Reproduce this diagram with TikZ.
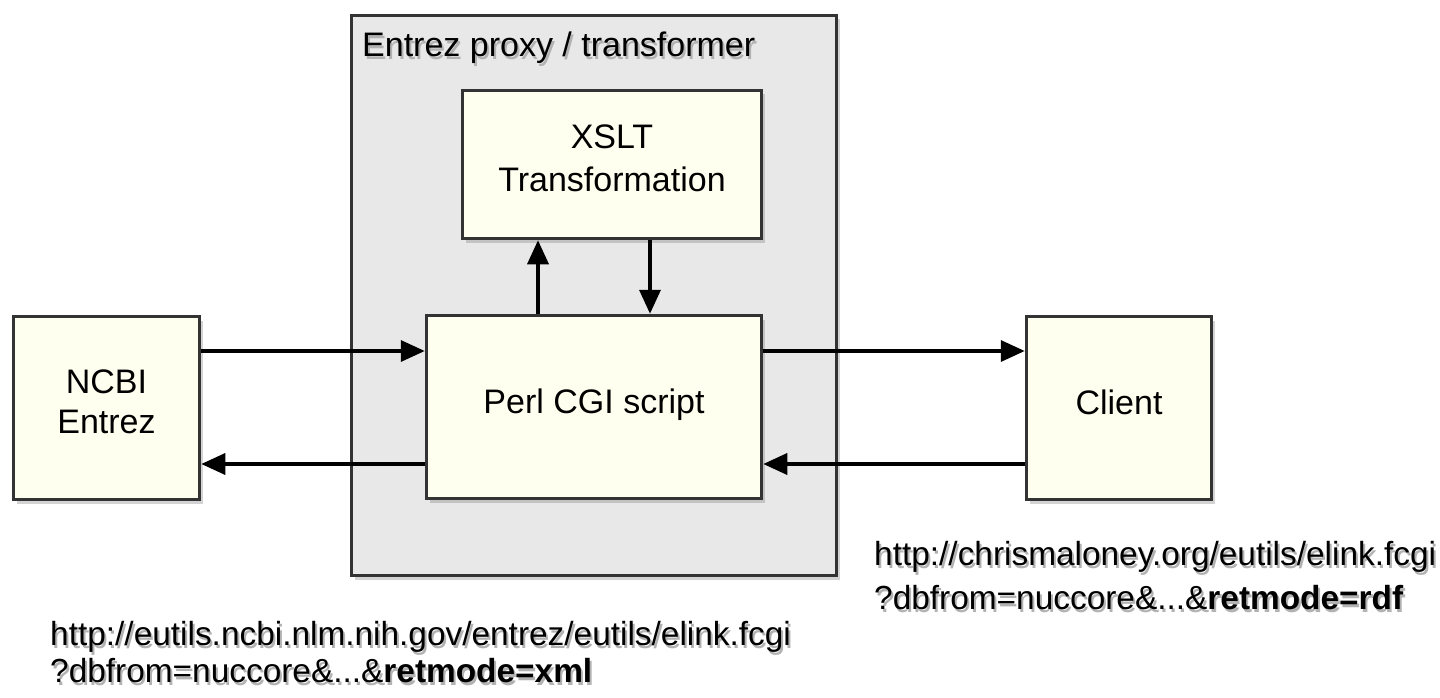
\documentclass[tikz,border=0pt]{standalone}
\usepackage{fontspec}
\setmainfont{Liberation Sans}
\usetikzlibrary{arrows.meta,calc,positioning,shadows}
\definecolor{boxfill}{RGB}{255,255,240}
\definecolor{proxyfill}{RGB}{232,232,232}
\definecolor{boxline}{RGB}{51,51,51}
\newcommand{\bigfont}{\fontsize{34}{40}\selectfont}
\newcommand{\urlfont}{\fontsize{33.4}{40}\selectfont}
\newcommand{\shtext}[1]{\makebox[0pt][l]{\hspace{2pt}\raisebox{-3pt}{\color{black!30}#1}}#1}
\tikzset{%
	block/.style     = {draw=boxline, fill=boxfill, line width=3.5pt, rectangle, align=center, font=\bigfont, text depth=12pt,
	                    drop shadow={shadow xshift=3pt, shadow yshift=-4pt, opacity=.35}}, % Box
	container/.style = {block, fill=proxyfill}, % Proxy frame
	urltext/.style   = {inner sep=0pt, anchor=base west, align=left, font=\urlfont}, % Request URL
	link/.style      = {line width=3.5pt, -{Triangle[length=24pt,width=21pt]}}, % Connector
}

\begin{document}
\begin{tikzpicture}[x=1pt,y=-1pt]
		\useasboundingbox (0,0) rectangle (1440,698);
		\node[container, minimum width=485pt, minimum height=560pt] (proxy) at (594,295.5) {};
		\node[urltext, font=\bigfont] (title) at (362,57) {\shtext{Entrez proxy / transformer}};
		\node[block, minimum width=299pt, minimum height=148pt] (xslt) at (612,164.5) {XSLT\\[3pt]Transformation};
		\node[block, minimum width=335pt, minimum height=183pt] (perl) at (594,407) {Perl CGI script};
		\node[block, minimum width=186pt, minimum height=183pt] (ncbi) at (106.5,408) {NCBI\\Entrez};
		\node[block, minimum width=185pt, minimum height=183pt] (client) at (1119,408) {Client};
		\node[urltext] (clienturl) at (874,609) {\shtext{http://chrismaloney.org/eutils/elink.fcgi}\\[4pt]\shtext{?dbfrom=nuccore\&...\&\textbf{retmode=rdf}}};
		\node[urltext] (ncbiurl) at (50,682) {\shtext{http://eutils.ncbi.nlm.nih.gov/entrez/eutils/elink.fcgi}\\[-3pt]\shtext{?dbfrom=nuccore\&...\&\textbf{retmode=xml}}};
		\draw[link] ([yshift=57pt]ncbi.east) -- ([yshift=57pt]ncbi.east -| perl.west);
		\draw[link] ([yshift=-57pt]perl.west) -- ([yshift=-57pt]perl.west -| ncbi.east);
		\draw[link] ([yshift=56pt]perl.east) -- ([yshift=56pt]perl.east -| client.west);
		\draw[link] ([yshift=-56pt]client.west) -- ([yshift=-56pt]client.west -| perl.east);
		\draw[link] ([xshift=-56pt]perl.north) -- ([xshift=-56pt]perl.north |- xslt.south);
		\draw[link] ([xshift=38pt]xslt.south) -- ([xshift=38pt]xslt.south |- perl.north);
		\end{tikzpicture}
\end{document}
